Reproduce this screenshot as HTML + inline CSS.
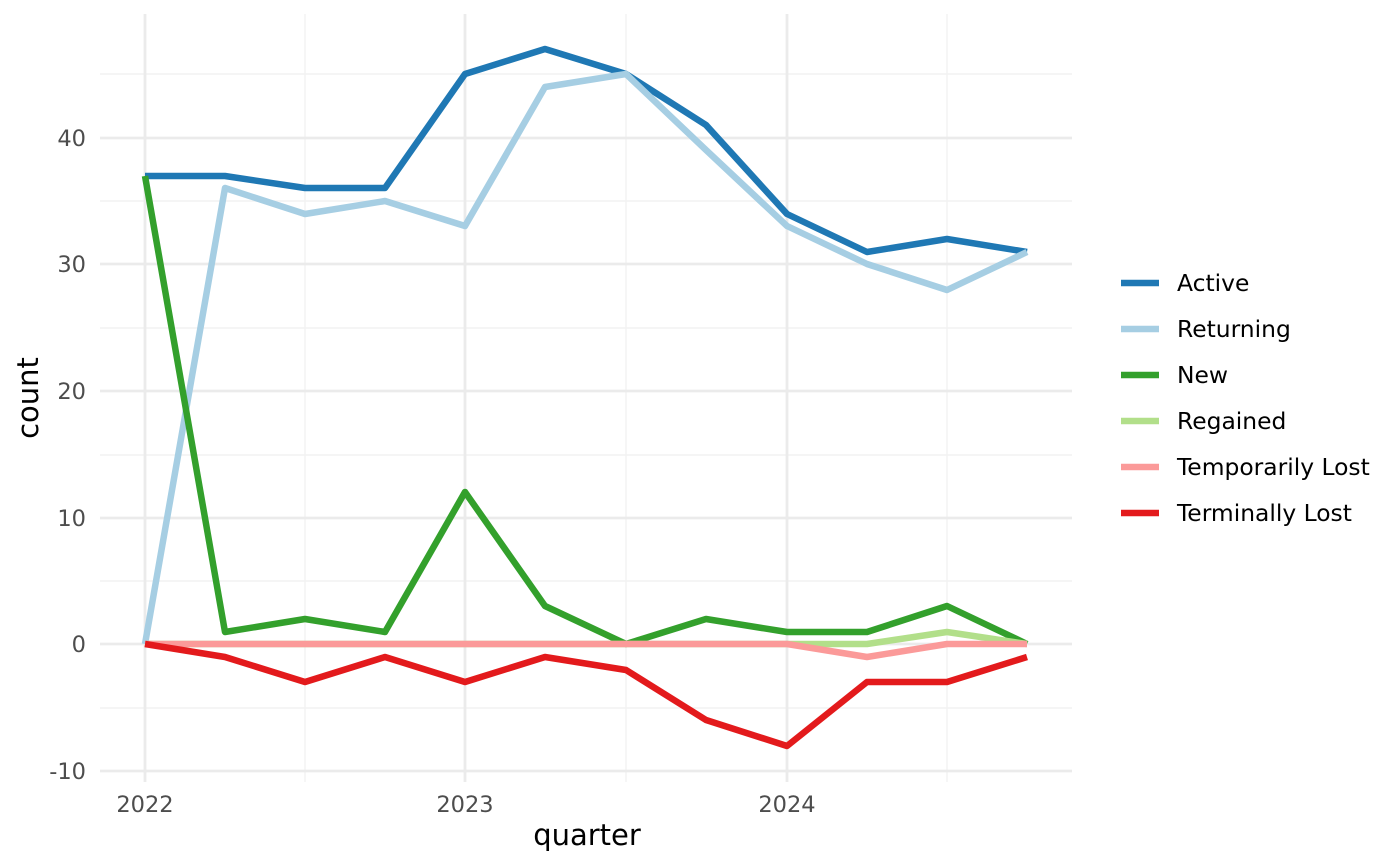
<!DOCTYPE html>
<html><head><meta charset="utf-8"><style>body{margin:0;background:#fff}svg{display:block;font-family:"DejaVu Sans","Liberation Sans",sans-serif}</style></head>
<body>
<svg width="1400" height="865" viewBox="0 0 1400 865">
<g stroke="#f2f2f2" stroke-width="1.4">
<line x1="100" x2="1072" y1="708" y2="708"/><line x1="100" x2="1072" y1="581" y2="581"/><line x1="100" x2="1072" y1="455" y2="455"/><line x1="100" x2="1072" y1="328" y2="328"/><line x1="100" x2="1072" y1="201" y2="201"/><line x1="100" x2="1072" y1="74" y2="74"/>
<line x1="305" x2="305" y1="14" y2="782"/><line x1="626" x2="626" y1="14" y2="782"/><line x1="947" x2="947" y1="14" y2="782"/>
</g>
<g stroke="#ebebeb" stroke-width="2.8">
<line x1="100" x2="1072" y1="771" y2="771"/><line x1="100" x2="1072" y1="644" y2="644"/><line x1="100" x2="1072" y1="518" y2="518"/><line x1="100" x2="1072" y1="391" y2="391"/><line x1="100" x2="1072" y1="264" y2="264"/><line x1="100" x2="1072" y1="138" y2="138"/>
<line x1="145" x2="145" y1="14" y2="782"/><line x1="465" x2="465" y1="14" y2="782"/><line x1="787" x2="787" y1="14" y2="782"/>
</g>
<g fill="none" stroke-width="6.5" stroke-linejoin="round">
<polyline stroke="#1f78b4" points="145,176 225,176 305,188 385,188 465,74 545,49 626,74 706,125 787,214 867,252 947,239 1027,252"/>
<polyline stroke="#a6cee3" points="145,644 225,188 305,214 385,201 465,226 545,87 626,74 706,150 787,226 867,264 947,290 1027,252"/>
<polyline stroke="#33a02c" points="145,176 225,632 305,619 385,632 465,492 545,606 626,644 706,619 787,632 867,632 947,606 1027,644"/>
<polyline stroke="#b2df8a" points="145,644 787,644 867,644 947,632 1027,644"/>
<polyline stroke="#fb9a99" points="145,644 787,644 867,657 947,644 1027,644"/>
<polyline stroke="#e31a1c" points="145,644 225,657 305,682 385,657 465,682 545,657 626,670 706,720 787,746 867,682 947,682 1027,657"/>
</g>
<g fill="#4d4d4d" font-size="22.5" text-anchor="end">
<text x="86" y="779">-10</text><text x="86" y="652">0</text><text x="86" y="526">10</text><text x="86" y="399">20</text><text x="86" y="272">30</text><text x="86" y="146">40</text>
</g>
<g fill="#4d4d4d" font-size="22.5" text-anchor="middle">
<text x="145" y="812">2022</text><text x="465" y="812">2023</text><text x="787" y="812">2024</text>
</g>
<text x="587" y="845" font-size="29" text-anchor="middle">quarter</text>
<text transform="translate(38,398) rotate(-90)" font-size="29" text-anchor="middle">count</text>
<g stroke-width="6.5">
<line x1="1121" x2="1159" y1="283" y2="283" stroke="#1f78b4"/>
<line x1="1121" x2="1159" y1="329" y2="329" stroke="#a6cee3"/>
<line x1="1121" x2="1159" y1="375" y2="375" stroke="#33a02c"/>
<line x1="1121" x2="1159" y1="421" y2="421" stroke="#b2df8a"/>
<line x1="1121" x2="1159" y1="467" y2="467" stroke="#fb9a99"/>
<line x1="1121" x2="1159" y1="513" y2="513" stroke="#e31a1c"/>
</g>
<g font-size="23.4">
<text x="1177" y="291">Active</text><text x="1177" y="337">Returning</text><text x="1177" y="383">New</text><text x="1177" y="429">Regained</text><text x="1177" y="475">Temporarily Lost</text><text x="1177" y="521">Terminally Lost</text>
</g>
</svg>
</body></html>
